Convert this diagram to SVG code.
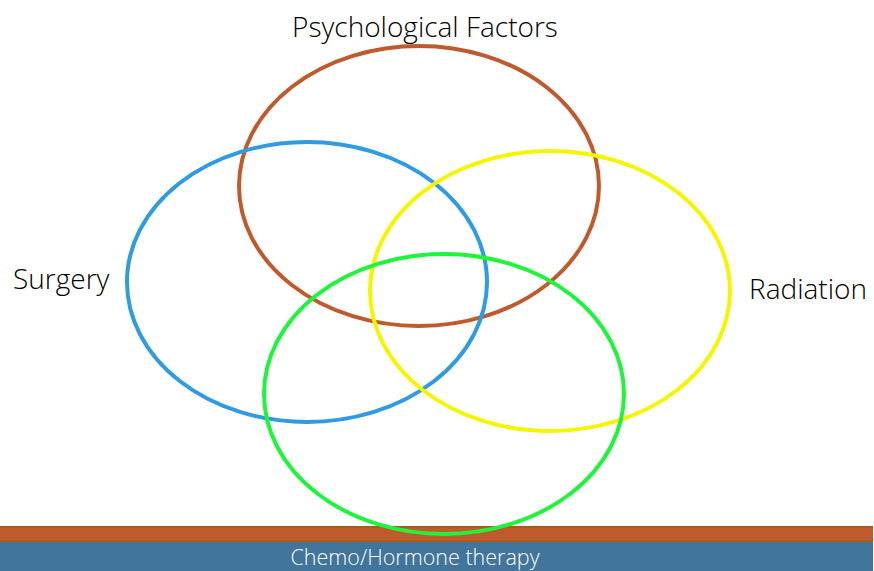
<svg xmlns="http://www.w3.org/2000/svg" width="874" height="571" viewBox="0 0 874 571">
  <style>
    .ring { fill: none; stroke-width: 4; }
    .label { font-family: "Open Sans", "Liberation Sans", sans-serif; font-weight: 300; fill: #000; font-size: 28px; }
  </style>
  <rect width="874" height="571" fill="#fff"/>
  <g id="base-bar">
    <rect x="0" y="526" width="873" height="16" fill="#BE5A2C"/>
    <rect x="0" y="526" width="873" height="1.5" fill="#A65A10"/>
    <rect x="0" y="540.5" width="873" height="1.5" fill="#A65A10"/>
    <rect x="0" y="542" width="873" height="29" fill="#41759C"/>
    <text x="415" y="565" font-size="21.5" text-anchor="middle" font-family="Open Sans, Liberation Sans, sans-serif" font-weight="300" fill="#fff">Chemo/Hormone therapy</text>
  </g>
  <g id="rings">
    <g id="psychological"><ellipse class="ring" cx="419" cy="186" rx="180" ry="140" stroke="#BF5A2C"/></g>
    <g id="surgery"><ellipse class="ring" cx="307" cy="282" rx="180" ry="140" stroke="#2E9BE2"/></g>
    <g id="radiation"><ellipse class="ring" cx="550" cy="291" rx="180" ry="140" stroke="#F5F500"/></g>
    <g id="chemo"><ellipse class="ring" cx="444" cy="394" rx="180" ry="140" stroke="#1EF53A"/></g>
  </g>
  <g id="labels">
    <text class="label" x="425" y="37" text-anchor="middle">Psychological Factors</text>
    <text class="label" x="13" y="289">Surgery</text>
    <text class="label" x="749" y="299">Radiation</text>
  </g>
</svg>
